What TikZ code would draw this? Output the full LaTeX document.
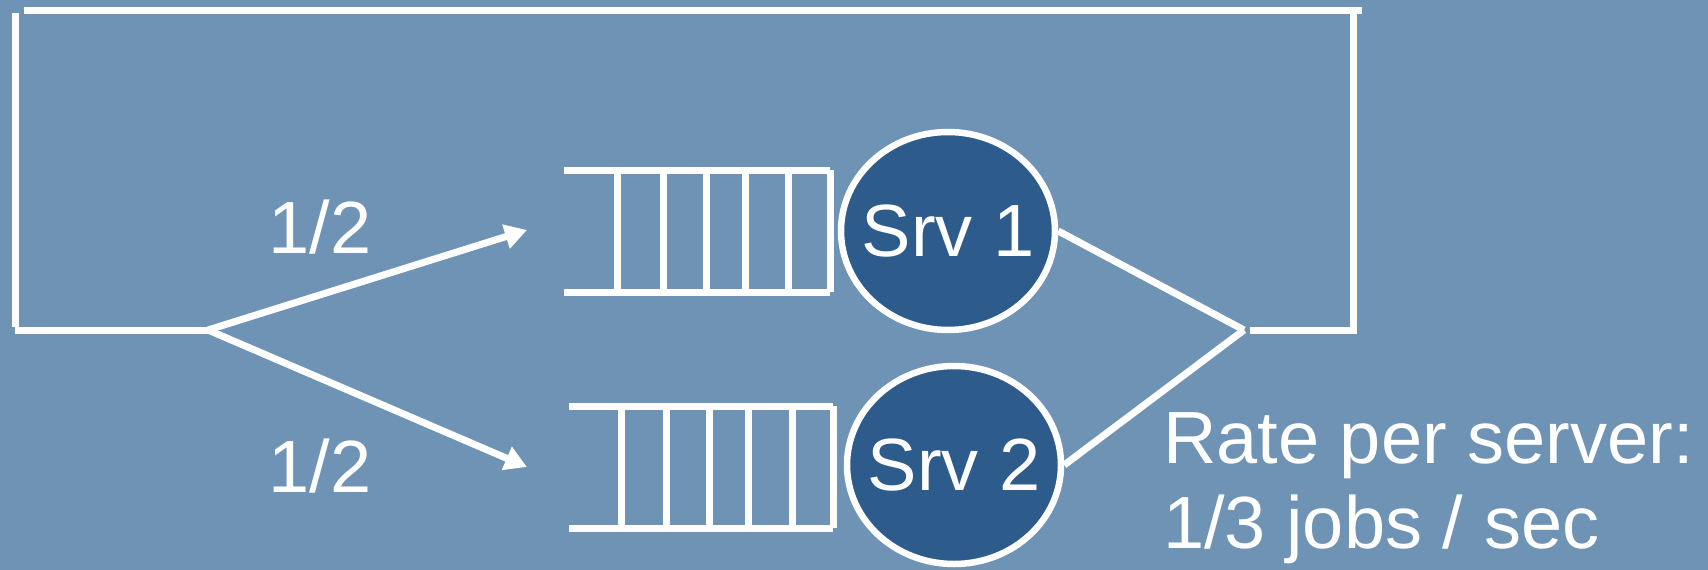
\documentclass[tikz,border=0pt]{standalone}
\usepackage{fontspec}
\setmainfont{Liberation Sans}
\usetikzlibrary{arrows.meta,shapes.geometric}
\definecolor{bgblue}{RGB}{111,147,180}
\definecolor{srvblue}{RGB}{45,91,139}
\tikzset{
  wline/.style={draw=white, line width=7pt},
  srv/.style={ellipse, draw=white, line width=6.5pt, fill=srvblue, minimum width=214pt, minimum height=198pt, inner sep=0pt},
  lbl/.style={text=white, inner sep=0pt, font=\fontsize{74}{80}\selectfont},
  arr/.style={wline, -{Triangle[length=22pt,width=24pt]}}
}
\begin{document}
\begin{tikzpicture}[x=1pt,y=-1pt]
\useasboundingbox (0,0) rectangle (1708,570);
\fill[bgblue] (0,0) rectangle (1708,570);
% queues
\foreach \yt/\yb/\xl/\xs in {170/292/564/{617,663,706,745,788,830}, 406/528/569/{621,666,709,748,792,833}}{
  \foreach \x [count=\i] in \xs {
    \draw[wline] (\x,\yt) -- (\x,\yb);
    \ifnum\i=6 \draw[wline] (\xl,\yt) -- (\x,\yt); \draw[wline] (\xl,\yb) -- (\x,\yb); \fi
  }
}
% servers
\node[srv, label={[lbl]center:Srv 1}] (s1) at (948,231) {};
\node[srv, label={[lbl]center:Srv 2}] (s2) at (954,465) {};
% junctions
\coordinate (j) at (208,330);
\coordinate (m) at (1244,330);
\coordinate (a1) at (527,230);
\coordinate (a2) at (527,467);
\coordinate (rb) at (1353,330);
\coordinate (rt) at (1353,13);
\coordinate (tr) at (1362,10);
\coordinate (tl) at (24,10);
\coordinate (lt) at (15,13);
\coordinate (lb) at (15,330);
\coordinate (m2) at (1250,330);
% feedback loop
\draw[wline] (m2) -- ([xshift=3.5pt]rb) (rb) -- (rt);
\draw[wline] (tr) -- (tl);
\draw[wline] (lt) -- ([yshift=3.5pt]lb) (lb) -- (j);
\draw[arr] (j) -- (a1);
\draw[arr] (j) -- (a2);
\draw[wline] (s1.east) -- (m);
\draw[wline] (s2.east) -- (m);
% labels
\node[lbl, anchor=base] (p1) at (320,253) {1/2};
\node[lbl, anchor=base] (p2) at (320,492) {1/2};
\node[lbl, anchor=base west] (r1) at (1163,463) {Rate per server:};
\node[lbl, anchor=base west] (r2) at (1163,548) {1/3 jobs / sec};
\end{tikzpicture}
\end{document}
